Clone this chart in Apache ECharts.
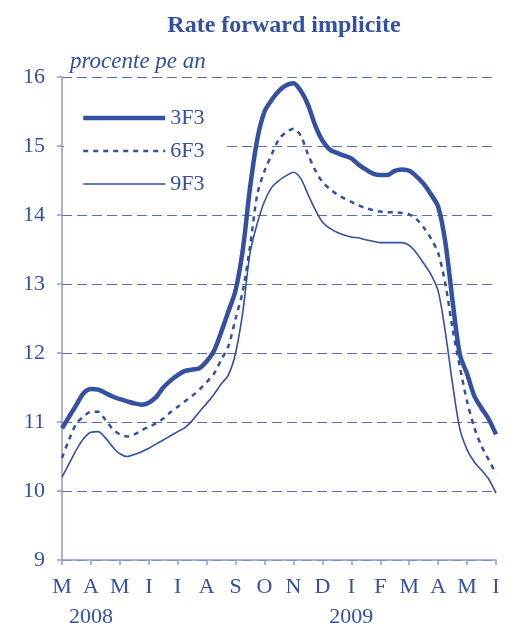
<!DOCTYPE html>
<html>
<head>
<meta charset="utf-8">
<script src="https://cdn.jsdelivr.net/npm/echarts@6/dist/echarts.min.js"></script>
<style>
  html, body { margin: 0; padding: 0; background: #fff; }
  #chart { width: 510px; height: 623px; }
</style>
</head>
<body>
<div id="chart"></div>
<script>
// luni martie 2008 - martie 2009 (pozitii de pe axa X)
const months = ['M', 'A', 'M', 'I', 'I', 'A', 'S', 'O', 'N', 'D', 'I', 'F', 'M', 'A', 'M', 'I'];
const years = { 1: '2008', 10: '2009' };

// pozitia fiecarei observatii, in luni de la inceputul graficului
const pos = [0, 0.25, 0.5, 0.75, 1, 1.25, 1.5, 1.75, 2, 2.25, 2.5, 2.75, 3, 3.25, 3.5, 3.75,
  4, 4.25, 4.5, 4.75, 5, 5.25, 5.5, 5.75, 6, 6.25, 6.5, 6.75, 7, 7.25, 7.5, 7.75,
  8, 8.25, 8.5, 8.75, 9, 9.25, 9.5, 9.75, 10, 10.25, 10.5, 10.75, 11, 11.25, 11.5, 11.75,
  12, 12.25, 12.5, 12.75, 13, 13.25, 13.5, 13.75, 14, 14.25, 14.5, 14.75, 15];

const f3f3 = [10.91, 11.08, 11.25, 11.42, 11.48, 11.47, 11.42, 11.37, 11.33, 11.30, 11.27, 11.25, 11.28, 11.36, 11.50, 11.60,
  11.68, 11.74, 11.76, 11.78, 11.88, 12.03, 12.30, 12.60, 12.91, 13.50, 14.40, 15.10, 15.50, 15.67, 15.80, 15.88,
  15.91, 15.80, 15.60, 15.30, 15.08, 14.95, 14.90, 14.86, 14.82, 14.73, 14.66, 14.60, 14.58, 14.58, 14.64, 14.66,
  14.64, 14.56, 14.45, 14.30, 14.12, 13.60, 12.75, 11.98, 11.70, 11.38, 11.20, 11.04, 10.82];

const f6f3 = [10.48, 10.75, 10.98, 11.08, 11.15, 11.15, 11.03, 10.90, 10.82, 10.79, 10.82, 10.88, 10.93, 10.98, 11.05, 11.14,
  11.22, 11.30, 11.38, 11.47, 11.58, 11.70, 11.90, 12.10, 12.50, 12.90, 13.55, 14.30, 14.64, 14.88, 15.10, 15.20,
  15.25, 15.15, 14.88, 14.65, 14.48, 14.38, 14.30, 14.24, 14.19, 14.14, 14.10, 14.07, 14.05, 14.04, 14.04, 14.03,
  14.01, 13.94, 13.82, 13.66, 13.45, 13.00, 12.35, 11.80, 11.30, 10.92, 10.65, 10.45, 10.25];

const f9f3 = [10.20, 10.40, 10.60, 10.76, 10.85, 10.86, 10.77, 10.64, 10.54, 10.50, 10.53, 10.57, 10.62, 10.68, 10.74, 10.80,
  10.86, 10.92, 11.02, 11.15, 11.27, 11.40, 11.55, 11.68, 12.00, 12.60, 13.45, 13.88, 14.20, 14.40, 14.50, 14.57,
  14.62, 14.53, 14.30, 14.08, 13.90, 13.81, 13.75, 13.71, 13.68, 13.67, 13.64, 13.62, 13.60, 13.60, 13.60, 13.60,
  13.56, 13.45, 13.30, 13.14, 12.90, 12.30, 11.55, 10.90, 10.60, 10.42, 10.30, 10.17, 9.97];

const blue = '#3350a3';
const axisBlue = '#8c9bd0';
const serif = '"Liberation Serif", "Times New Roman", serif';

const pairs = (vals) => pos.map((p, i) => [p, vals[i]]);

const chart = echarts.init(document.getElementById('chart'), null, { renderer: 'canvas' });
chart.setOption({
  animation: false,
  textStyle: { fontFamily: serif, color: blue },
  title: {
    text: 'Rate forward implicite',
    left: 279,
    textAlign: 'center',
    top: 9,
    textStyle: { fontFamily: serif, fontSize: 24, fontWeight: 'bold', color: blue }
  },
  legend: {
    orient: 'vertical',
    left: 64,
    top: 99,
    padding: [8, 18, 8, 17],
    backgroundColor: '#fff',
    itemWidth: 82,
    itemHeight: 14,
    itemGap: 11,
    textStyle: { fontFamily: serif, fontSize: 22, color: blue },
    data: [
      { name: '3F3', itemStyle: { opacity: 0 }, lineStyle: { width: 4.5 } },
      { name: '6F3', itemStyle: { opacity: 0 }, lineStyle: { width: 2.5, type: [5, 5] } },
      { name: '9F3', itemStyle: { opacity: 0 }, lineStyle: { width: 1.6 } }
    ]
  },
  grid: { left: 62, right: 14, top: 77, bottom: 63, containLabel: false, outerBoundsMode: 'none' },
  xAxis: [{
    type: 'value',
    min: 0,
    max: 15,
    interval: 1,
    axisLine: { lineStyle: { color: axisBlue, width: 1.5 } },
    axisTick: { show: true, length: 5, lineStyle: { color: axisBlue, width: 1.5 } },
    splitLine: { show: false },
    axisLabel: {
      margin: 16,
      fontFamily: serif,
      fontSize: 22,
      color: blue,
      showMinLabel: true,
      showMaxLabel: true,
      formatter: (v) => months[v] || ''
    }
  }, {
    type: 'value',
    position: 'bottom',
    offset: 34,
    min: 0,
    max: 15,
    interval: 1,
    axisLine: { show: false },
    axisTick: { show: false },
    splitLine: { show: false },
    axisLabel: {
      margin: 12,
      fontFamily: serif,
      fontSize: 22,
      color: blue,
      formatter: (v) => years[v] || ''
    }
  }],
  yAxis: {
    type: 'value',
    min: 9,
    max: 16,
    interval: 1,
    name: 'procente pe an',
    nameLocation: 'end',
    nameGap: 4,
    nameTextStyle: {
      fontFamily: serif, fontSize: 23, fontStyle: 'italic', color: blue,
      align: 'left', padding: [0, 0, 0, 8]
    },
    axisLine: { show: true, lineStyle: { color: axisBlue, width: 1.5 } },
    axisTick: { show: true, length: 5, lineStyle: { color: axisBlue, width: 1.5 } },
    axisLabel: { margin: 17, fontFamily: serif, fontSize: 22, color: blue },
    splitLine: { show: true, lineStyle: { color: '#5b6fb5', type: [10, 5], width: 1 } }
  },
  series: [
    {
      name: '3F3', type: 'line', data: pairs(f3f3), showSymbol: false, symbol: 'none',
      smooth: 0.3, lineStyle: { color: blue, width: 4.5 }, itemStyle: { color: blue }
    },
    {
      name: '6F3', type: 'line', data: pairs(f6f3), showSymbol: false, symbol: 'none',
      smooth: 0.3, lineStyle: { color: blue, width: 2.5, type: [5, 5] }, itemStyle: { color: blue }
    },
    {
      name: '9F3', type: 'line', data: pairs(f9f3), showSymbol: false, symbol: 'none',
      smooth: 0.3, lineStyle: { color: blue, width: 1.6 }, itemStyle: { color: blue }
    }
  ]
});
</script>
</body>
</html>
